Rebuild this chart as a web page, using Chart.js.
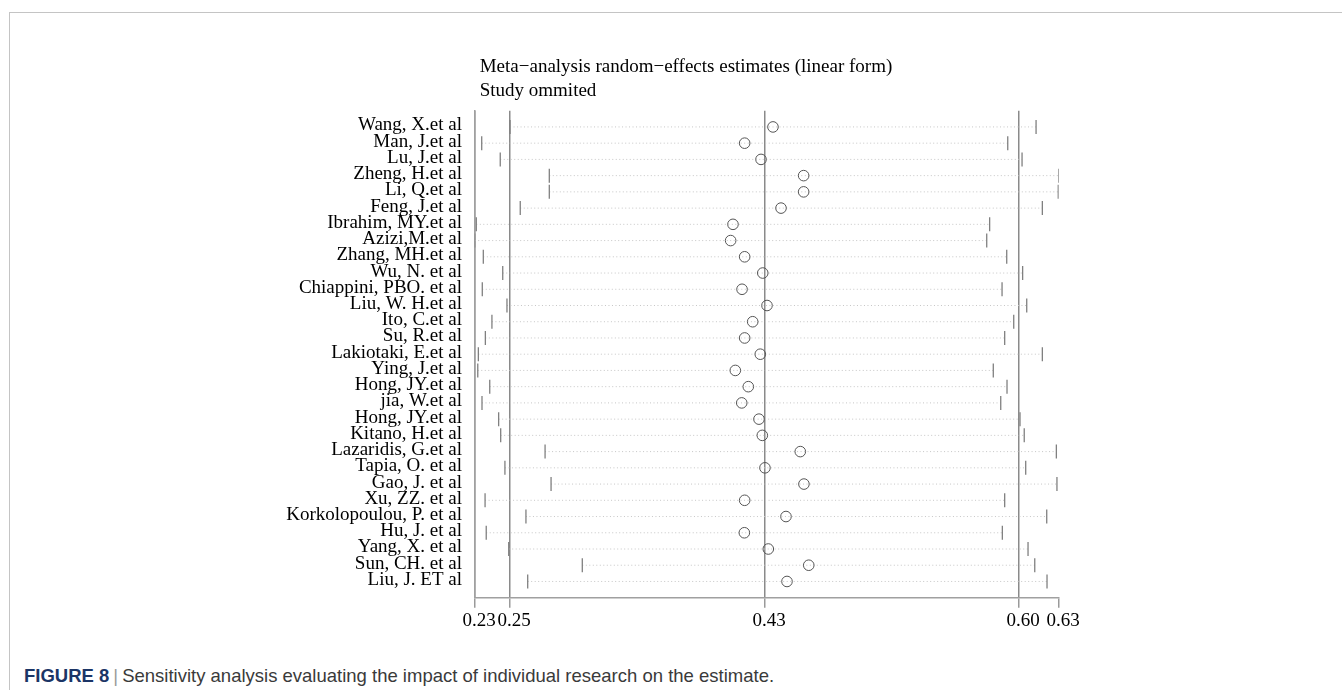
<!DOCTYPE html>
<html>
<head>
<meta charset="utf-8">
<script src="https://cdn.jsdelivr.net/npm/chart.js@4.4.1/dist/chart.umd.min.js"></script>
<style>
  body { margin: 0; background: #fff; overflow: hidden; width: 1342px; height: 690px; position: relative; }
  #frame { position: absolute; left: 9px; top: 12px; width: 1400px; height: 800px; border: 1px solid #c4c4c4; }
  #wrap { position: absolute; left: 0; top: 0; width: 1342px; height: 660px; }
  #caption { position: absolute; left: 24px; top: 666.7px; font-family: 'Liberation Sans', Arial, sans-serif;
             font-size: 18.5px; line-height: 18.5px; color: #3a3a3a; white-space: nowrap; }
  #caption b { color: #1b3566; }
  #caption span { color: #9a9a9a; padding: 0 4px; }
</style>
</head>
<body>
<div id="frame"></div>
<div id="wrap"><canvas id="forest"></canvas></div>
<div id="caption"><b>FIGURE 8</b><span>|</span>Sensitivity analysis evaluating the impact of individual research on the estimate.</div>

<script>
// studies omitted, one per row (top to bottom)
const studies = [
  'Wang, X.et al', 'Man, J.et al', 'Lu, J.et al', 'Zheng, H.et al', 'Li, Q.et al',
  'Feng, J.et al', 'Ibrahim, MY.et al', 'Azizi,M.et al', 'Zhang, MH.et al', 'Wu, N. et al',
  'Chiappini, PBO. et al', 'Liu, W. H.et al', 'Ito, C.et al', 'Su, R.et al', 'Lakiotaki, E.et al',
  'Ying, J.et al', 'Hong, JY.et al', 'jia, W.et al', 'Hong, JY.et al', 'Kitano, H.et al',
  'Lazaridis, G.et al', 'Tapia, O. et al', 'Gao, J. et al', 'Xu, ZZ. et al', 'Korkolopoulou, P. et al',
  'Hu, J. et al', 'Yang, X. et al', 'Sun, CH. et al', 'Liu, J. ET al'
];

const estimate = [
  0.4343, 0.4149, 0.4261, 0.4553, 0.4553, 0.4398, 0.4069, 0.4053, 0.4149, 0.4273,
  0.4131, 0.4302, 0.4204, 0.4149, 0.4256, 0.4085, 0.4174, 0.4129, 0.4247, 0.4270,
  0.4530, 0.4288, 0.4555, 0.4149, 0.4432, 0.4147, 0.4311, 0.4588, 0.4439
];
const lowerCI = [
  0.2542, 0.2348, 0.2475, 0.2811, 0.2811, 0.2612, 0.2311, 0.2300, 0.2359, 0.2492,
  0.2352, 0.2521, 0.2418, 0.2373, 0.2325, 0.2321, 0.2403, 0.2350, 0.2464, 0.2478,
  0.2782, 0.2507, 0.2823, 0.2371, 0.2651, 0.2379, 0.2533, 0.3037, 0.2663
];
const upperCI = [
  0.6145, 0.5951, 0.6049, 0.6300, 0.6297, 0.6188, 0.5827, 0.5807, 0.5944, 0.6053,
  0.5912, 0.6081, 0.5992, 0.5930, 0.6188, 0.5852, 0.5946, 0.5903, 0.6035, 0.6064,
  0.6284, 0.6074, 0.6288, 0.5930, 0.6218, 0.5914, 0.6090, 0.6136, 0.6220
];

// overall estimate with its CI, and axis ends
const overall = [0.2540, 0.4285, 0.6025];
const axisMin = 0.23, axisMax = 0.63;
const xTicks = [axisMin, overall[0], overall[1], overall[2], axisMax];

const titleLines = ['Meta\u2212analysis random\u2212effects estimates (linear form)', 'Study ommited'];

Chart.defaults.font.family = "'Liberation Serif', 'Times New Roman', serif";
Chart.defaults.font.size = 19;
Chart.defaults.color = '#000';

const rowY = studies.map((s, i) => i + 1);

// one dotted segment per study, lower -> upper
const spanSets = studies.map((s, i) => ({
  type: 'scatter',
  data: [{x: lowerCI[i], y: rowY[i]}, {x: upperCI[i], y: rowY[i]}],
  showLine: true,
  borderColor: '#c6c6c6',
  borderWidth: 1,
  borderDash: [1, 2.5],
  pointRadius: 0,
  order: 3
}));

const capStyle = {
  type: 'scatter',
  pointStyle: 'line',
  rotation: 90,
  pointRadius: 7,
  pointBorderColor: '#808080',
  pointBorderWidth: 1.3,
  order: 2
};

const datasets = spanSets.concat([
  Object.assign({label: 'lower', data: lowerCI.map((v, i) => ({x: v, y: rowY[i]}))}, capStyle),
  Object.assign({label: 'upper', data: upperCI.map((v, i) => ({x: v, y: rowY[i]}))}, capStyle),
  {
    type: 'scatter',
    label: 'estimate',
    data: estimate.map((v, i) => ({x: v, y: rowY[i]})),
    pointStyle: 'circle',
    pointRadius: 5.3,
    pointBorderColor: '#555',
    pointBackgroundColor: 'rgba(0,0,0,0)',
    pointBorderWidth: 1,
    order: 1
  }
]);

// title lines above the plot, Stata style
const figTitle = {
  id: 'figTitle',
  afterDraw(chart) {
    const ctx = chart.ctx;
    ctx.save();
    ctx.font = "19px 'Liberation Serif', 'Times New Roman', serif";
    ctx.fillStyle = '#000';
    ctx.textBaseline = 'middle';
    titleLines.forEach((t, i) => ctx.fillText(t, chart.chartArea.left + 5, 67 + i * 24));
    ctx.restore();
  }
};

const scales = {
  x: {
    type: 'linear',
    min: axisMin,
    max: axisMax,
    afterBuildTicks: (scale) => { scale.ticks = xTicks.map(v => ({value: v})); },
    afterFit: (scale) => { scale.height = 40; },
    ticks: {
      autoSkip: false,
      maxRotation: 0,
      minRotation: 0,
      padding: 2,
      labelOffset: 4.5,
      callback: (val) => Number(val).toFixed(2)
    },
    grid: {
      color: (ctx) => ctx.index === xTicks.length - 1 ? 'rgba(0,0,0,0)' : '#8a8a8a',
      tickColor: '#9a9a9a',
      lineWidth: 1.5,
      tickLength: 10
    },
    border: {display: true, color: '#a0a0a0', width: 1.5}
  },
  y: {
    type: 'linear',
    min: 0,
    max: studies.length + 1,
    reverse: true,
    afterBuildTicks: (scale) => { scale.ticks = rowY.map(v => ({value: v})); },
    afterFit: (scale) => { scale.width = 474.7; },
    ticks: {
      autoSkip: false,
      padding: 12.7,
      labelOffset: -1.5,
      callback: (val, index) => studies[index]
    },
    grid: {display: false, drawTicks: false},
    border: {display: true, color: '#a0a0a0', width: 1.5}
  }
};

new Chart(document.getElementById('forest').getContext('2d'), {
  type: 'scatter',
  data: {datasets: datasets},
  options: {
    responsive: true,
    maintainAspectRatio: false,
    animation: false,
    layout: {padding: {left: 0, right: 283.3, top: 110.7, bottom: 22.3}},
    scales: scales,
    plugins: {
      legend: {display: false},
      title: {display: false},
      tooltip: {enabled: false}
    }
  },
  plugins: [figTitle]
});
</script>
</body>
</html>
